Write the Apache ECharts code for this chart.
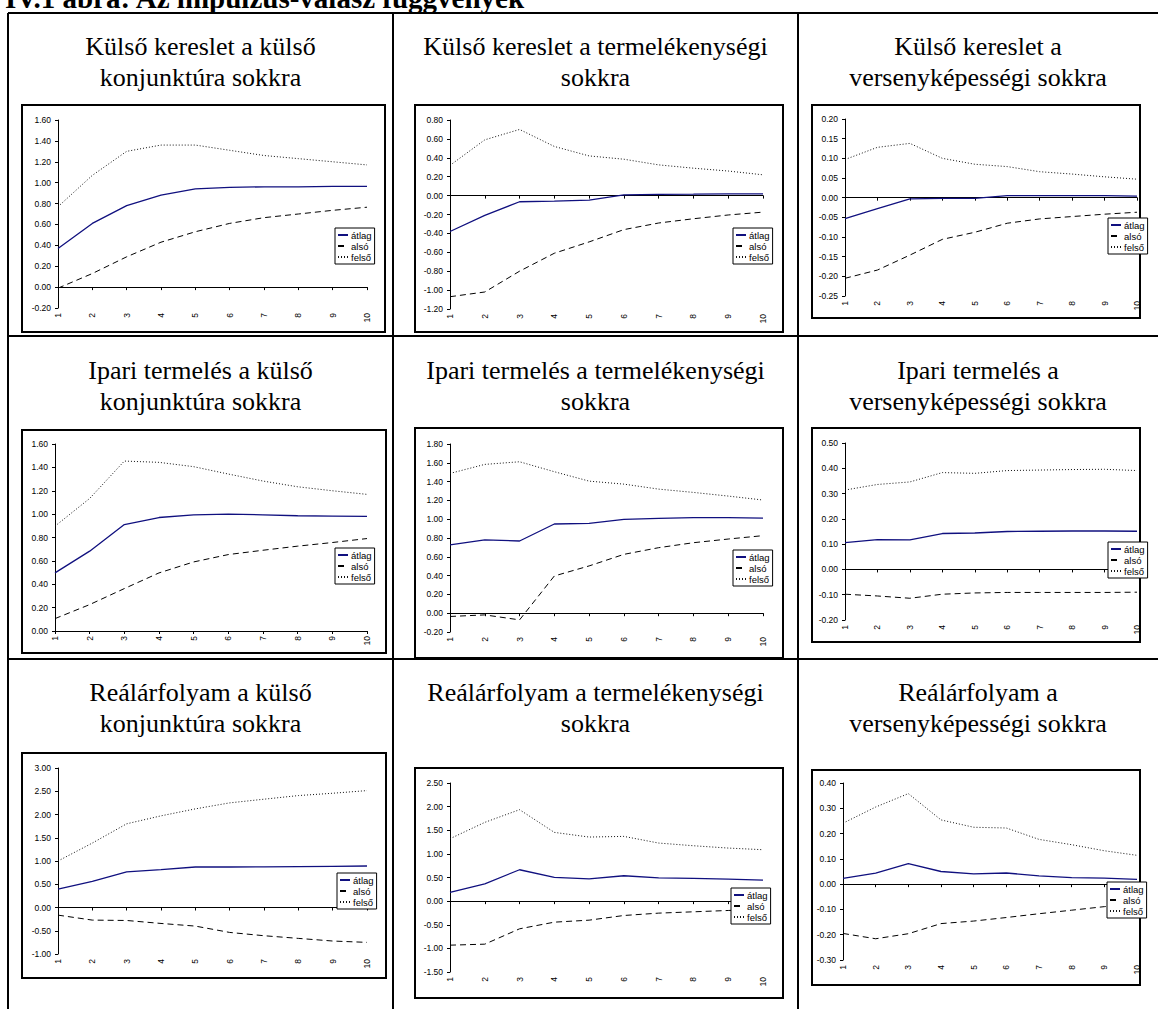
<!DOCTYPE html>
<html><head><meta charset="utf-8">
<script src="https://cdn.jsdelivr.net/npm/echarts@6/dist/echarts.min.js"></script>
<style>html,body{margin:0;padding:0;background:#fff;overflow:hidden}#c{width:1158px;height:1009px}</style>
</head><body><div id="c"></div>
<script>
// ---------- DATA ----------
const categories = ['1','2','3','4','5','6','7','8','9','10'];
const seriesNames = ['átlag','alsó','felső'];
const pageTitle = 'IV.1 ábra: Az impulzus-válasz függvények';
const panelTitles = [
  ['Külső kereslet a külső','konjunktúra sokkra'],
  ['Külső kereslet a termelékenységi','sokkra'],
  ['Külső kereslet a','versenyképességi sokkra'],
  ['Ipari termelés a külső','konjunktúra sokkra'],
  ['Ipari termelés a termelékenységi','sokkra'],
  ['Ipari termelés a','versenyképességi sokkra'],
  ['Reálárfolyam a külső','konjunktúra sokkra'],
  ['Reálárfolyam a termelékenységi','sokkra'],
  ['Reálárfolyam a','versenyképességi sokkra']
];
const atlag1 = [0.37,0.61,0.78,0.88,0.94,0.955,0.96,0.96,0.965,0.965];
const also1  = [-0.01,0.13,0.29,0.43,0.53,0.61,0.665,0.70,0.735,0.765];
const felso1 = [0.77,1.07,1.30,1.36,1.36,1.31,1.26,1.23,1.20,1.17];
const atlag2 = [-0.38,-0.21,-0.065,-0.058,-0.048,0.007,0.014,0.015,0.018,0.018];
const also2  = [-1.07,-1.02,-0.80,-0.61,-0.49,-0.36,-0.29,-0.245,-0.205,-0.175];
const felso2 = [0.32,0.59,0.70,0.52,0.42,0.385,0.325,0.29,0.26,0.22];
const atlag3 = [-0.053,-0.028,-0.003,-0.002,-0.002,0.005,0.005,0.005,0.005,0.004];
const also3  = [-0.205,-0.184,-0.146,-0.106,-0.088,-0.065,-0.054,-0.048,-0.042,-0.037];
const felso3 = [0.097,0.128,0.138,0.100,0.085,0.079,0.066,0.060,0.053,0.047];
const atlag4 = [0.497,0.683,0.911,0.971,0.994,1.0,0.994,0.986,0.983,0.98];
const also4  = [0.106,0.226,0.363,0.497,0.591,0.654,0.691,0.726,0.757,0.791];
const felso4 = [0.897,1.134,1.454,1.443,1.406,1.343,1.283,1.234,1.20,1.169];
const atlag5 = [0.726,0.779,0.768,0.949,0.956,0.998,1.009,1.016,1.016,1.012];
const also5  = [-0.035,-0.018,-0.071,0.396,0.503,0.626,0.697,0.75,0.789,0.825];
const felso5 = [1.487,1.583,1.611,1.505,1.405,1.373,1.320,1.285,1.246,1.204];
const atlag6 = [0.106,0.118,0.117,0.142,0.144,0.15,0.151,0.152,0.152,0.151];
const also6  = [-0.098,-0.105,-0.114,-0.098,-0.093,-0.091,-0.091,-0.091,-0.091,-0.09];
const felso6 = [0.314,0.336,0.346,0.383,0.38,0.391,0.393,0.395,0.396,0.391];
const atlag7 = [0.393,0.564,0.764,0.814,0.871,0.871,0.872,0.879,0.886,0.893];
const also7  = [-0.164,-0.271,-0.279,-0.343,-0.40,-0.536,-0.607,-0.664,-0.721,-0.75];
const felso7 = [1.0,1.386,1.80,1.971,2.121,2.25,2.329,2.407,2.457,2.514];
const atlag8 = [0.184,0.367,0.664,0.501,0.473,0.537,0.494,0.48,0.466,0.445];
const also8  = [-0.932,-0.911,-0.586,-0.445,-0.403,-0.304,-0.254,-0.226,-0.198,-0.17];
const felso8 = [1.321,1.667,1.935,1.455,1.356,1.37,1.229,1.172,1.123,1.088];
const atlag9 = [0.0225,0.044,0.081,0.05,0.041,0.044,0.033,0.026,0.024,0.019];
const also9  = [-0.195,-0.216,-0.196,-0.156,-0.146,-0.132,-0.117,-0.103,-0.089,-0.078];
const felso9 = [0.241,0.305,0.358,0.254,0.225,0.222,0.177,0.156,0.132,0.114];
const yMin  = [-0.2,-1.2,-0.25,0,-0.2,-0.2,-1,-1.5,-0.3];
const yMax  = [1.6,0.8,0.2,1.6,1.8,0.5,3,2.5,0.4];
const yStep = [0.2,0.2,0.05,0.2,0.2,0.1,0.5,0.5,0.1];

const panels = [
  [atlag1,also1,felso1],[atlag2,also2,felso2],[atlag3,also3,felso3],
  [atlag4,also4,felso4],[atlag5,also5,felso5],[atlag6,also6,felso6],
  [atlag7,also7,felso7],[atlag8,also8,felso8],[atlag9,also9,felso9]
];

// ---------- LAYOUT ----------
// plot area: [axisX, lastCategoryX, topY, bottomY]
const plotArea = [
  [58,367,120,308],[450,763,120,309],[845,1137,119,296],
  [55,367,444,631],[450,763,444,632],[845,1137,443,620],
  [58,367,768,954],[450,763,783,972],[843,1137,783,960]
];
// chart frames: [x1,y1,x2,y2]
const frames = [
  [22,105,385,332],[415,105,783,332],[812,105,1140,318],
  [22,430,386,653],[415,428,783,658],[812,428,1140,642],
  [22,753,386,978],[415,768,783,998],[812,770,1140,985]
];
// legend top-left
const legendPos = [
  [335,228],[733,228],[1108,218],
  [335,548],[733,550],[1108,542],
  [337,873],[731,888],[1107,882]
];
const colX = [8,393,798,1158];
const rowY = [13,336,659];
const titleY = [[46,77],[370,401],[692,723]];

const FONT = '"Liberation Sans", Arial, sans-serif';
const SERIF = '"Liberation Serif", "Times New Roman", serif';
const lineStyles = [
  {color:'#10107f', width:1.3, type:'solid'},
  {color:'#000000', width:1, type:[6,4]},
  {color:'#111111', width:1, type:[1,2]}
];

const graphic = [];
graphic.push({type:'text', x:5, y:-2, z:10, style:{text:pageTitle, font:'bold 29px ' + SERIF, fill:'#000', textVerticalAlign:'middle'}});
// table lines
const L = (x1,y1,x2,y2) => graphic.push({type:'line', z:5, shape:{x1,y1,x2,y2}, style:{stroke:'#000', lineWidth:2}});
L(colX[0], rowY[0], 1158, rowY[0]);
L(colX[0], rowY[1], 1158, rowY[1]);
L(colX[0], rowY[2], 1158, rowY[2]);
L(colX[0], rowY[0], colX[0], 1009);
L(colX[1], rowY[0], colX[1], 1009);
L(colX[2], rowY[0], colX[2], 1009);
for (let i = 0; i < 9; i++) {
  const r = Math.floor(i/3), c = i%3;
  const cx = (colX[c] + colX[c+1]) / 2;
  panelTitles[i].forEach((t, k) => {
    graphic.push({type:'text', x:cx, y:titleY[r][k], z:10,
      style:{text:t, font:'26px ' + SERIF, fill:'#000', textAlign:'center', textVerticalAlign:'middle'}});
  });
  const f = frames[i];
  graphic.push({type:'rect', z:-1, shape:{x:f[0], y:f[1], width:f[2]-f[0], height:f[3]-f[1]},
    style:{fill:'#fff', stroke:'#000', lineWidth:2}});
}

const grid = [], xAxis = [], yAxis = [], series = [], legend = [];
const fmt = v => (Math.abs(v) < 1e-9 ? 0 : v).toFixed(2);
for (let i = 0; i < 9; i++) {
  const p = plotArea[i];
  grid.push({left:p[0], top:p[2], width:p[1]-p[0], height:p[3]-p[2], containLabel:false});
  xAxis.push({type:'category', gridIndex:i, data:categories, boundaryGap:false,
    axisLine:{show:true, onZero:true, lineStyle:{color:'#000', width:1}},
    axisTick:{show:true, length:3, lineStyle:{color:'#000'}},
    axisLabel:{show:false}, splitLine:{show:false}});
  xAxis.push({type:'category', gridIndex:i, data:categories, boundaryGap:false, position:'bottom',
    axisLine:{show:false, onZero:false}, axisTick:{show:false},
    axisLabel:{show:true, rotate:90, interval:0, fontSize:8.5, fontFamily:FONT, color:'#000', margin:5},
    splitLine:{show:false}});
  yAxis.push({type:'value', gridIndex:i, min:yMin[i], max:yMax[i], interval:yStep[i],
    axisLine:{show:true, lineStyle:{color:'#000', width:1}},
    axisTick:{show:true, length:3, lineStyle:{color:'#000'}},
    axisLabel:{fontSize:8.5, fontFamily:FONT, color:'#000', margin:7, formatter:fmt},
    splitLine:{show:false}});
  panels[i].forEach((d, k) => {
    series.push({type:'line', name:seriesNames[k], xAxisIndex:2*i, yAxisIndex:i, data:d,
      symbol:'none', silent:true, animation:false,
      lineStyle:lineStyles[k], itemStyle:{color:lineStyles[k].color}});
  });
  legend.push({left:legendPos[i][0], top:legendPos[i][1], orient:'vertical', data:seriesNames,
    backgroundColor:'#fff', borderColor:'#000', borderWidth:1, borderRadius:0, padding:[2,3,2,2],
    itemGap:1, itemWidth:10, itemHeight:9, selectedMode:false,
    itemStyle:{opacity:0, borderWidth:0},
    textStyle:{fontSize:9.5, fontFamily:FONT, color:'#000', padding:[0,0,0,-2]}});
}

const chart = echarts.init(document.getElementById('c'), null, {renderer:'svg'});
chart.setOption({animation:false, backgroundColor:'#fff', graphic, grid, xAxis, yAxis, series, legend});
</script>
</body></html>
